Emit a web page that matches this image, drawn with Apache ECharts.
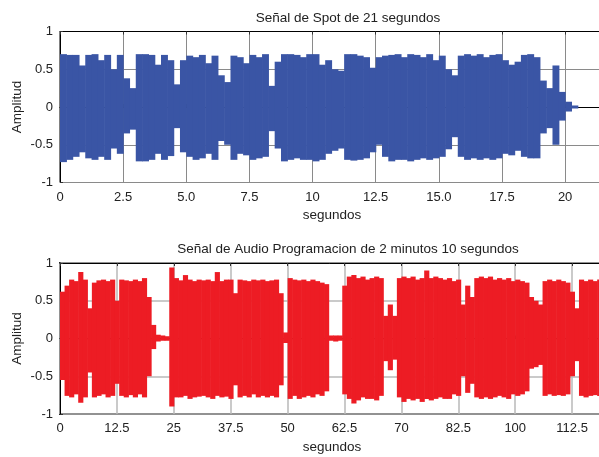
<!DOCTYPE html>
<html>
<head>
<meta charset="utf-8">
<script src="https://cdn.jsdelivr.net/npm/echarts@6/dist/echarts.min.js"></script>
<style>
  html, body { margin: 0; padding: 0; background: #fff; }
  #chart { width: 599px; height: 457px; }
</style>
</head>
<body>
<div id="chart"></div>
<script>
// envelope of the spot signal, one value per 0.25 s bin
var spotBin = 0.25;
var spotHi = [0.70,0.69,0.69,0.55,0.69,0.70,0.62,0.69,0.50,0.69,
              0.38,0.25,0.70,0.70,0.69,0.56,0.69,0.62,0.30,0.62,
              0.68,0.66,0.69,0.58,0.68,0.42,0.33,0.68,0.66,0.58,
              0.69,0.66,0.70,0.28,0.60,0.70,0.70,0.69,0.66,0.70,
              0.70,0.56,0.62,0.50,0.48,0.70,0.70,0.68,0.66,0.52,
              0.66,0.68,0.69,0.70,0.66,0.70,0.69,0.66,0.70,0.62,
              0.68,0.50,0.42,0.68,0.70,0.68,0.70,0.66,0.69,0.70,
              0.62,0.56,0.60,0.69,0.70,0.66,0.35,0.25,0.55,0.20,
              0.07,0.02];
var spotLo = [-0.73,-0.70,-0.66,-0.60,-0.68,-0.70,-0.66,-0.70,-0.55,-0.62,
              -0.35,-0.30,-0.72,-0.72,-0.70,-0.62,-0.70,-0.65,-0.28,-0.60,
              -0.66,-0.70,-0.68,-0.62,-0.70,-0.45,-0.50,-0.70,-0.62,-0.64,
              -0.70,-0.68,-0.66,-0.32,-0.55,-0.72,-0.70,-0.68,-0.70,-0.70,
              -0.72,-0.70,-0.62,-0.58,-0.55,-0.70,-0.71,-0.70,-0.68,-0.60,
              -0.50,-0.66,-0.72,-0.70,-0.70,-0.72,-0.70,-0.68,-0.70,-0.68,
              -0.66,-0.56,-0.40,-0.66,-0.70,-0.68,-0.70,-0.68,-0.70,-0.68,
              -0.62,-0.64,-0.58,-0.66,-0.68,-0.68,-0.35,-0.28,-0.50,-0.18,
              -0.06,-0.02];

// envelope of the programme audio, one value per 1 s bin
var audioBin = 1;
var audioHi = [0.62,0.70,0.78,0.76,0.88,0.78,0.40,0.74,0.77,0.78,
               0.76,0.78,0.50,0.78,0.77,0.76,0.78,0.76,0.80,0.55,
               0.18,0.05,0.04,0.03,0.94,0.80,0.77,0.84,0.78,0.76,
               0.78,0.77,0.78,0.76,0.88,0.76,0.78,0.78,0.60,0.78,
               0.77,0.76,0.78,0.77,0.78,0.76,0.77,0.78,0.60,0.08,
               0.80,0.78,0.77,0.78,0.76,0.78,0.76,0.74,0.72,0.04,
               0.04,0.04,0.70,0.82,0.84,0.80,0.82,0.78,0.80,0.82,
               0.80,0.30,0.45,0.30,0.80,0.82,0.80,0.82,0.78,0.80,
               0.90,0.80,0.82,0.80,0.78,0.80,0.76,0.78,0.45,0.70,
               0.55,0.80,0.82,0.80,0.82,0.78,0.80,0.78,0.80,0.76,
               0.78,0.76,0.74,0.55,0.50,0.45,0.76,0.78,0.76,0.78,
               0.76,0.74,0.62,0.40,0.78,0.76,0.78,0.76,0.78,0.77];
var audioLo = [-0.55,-0.76,-0.78,-0.74,-0.85,-0.78,-0.45,-0.78,-0.76,-0.74,
               -0.78,-0.76,-0.60,-0.76,-0.78,-0.75,-0.78,-0.74,-0.78,-0.50,
               -0.14,-0.04,-0.03,-0.03,-0.90,-0.78,-0.78,-0.76,-0.80,-0.78,
               -0.77,-0.76,-0.78,-0.80,-0.76,-0.78,-0.77,-0.80,-0.62,-0.78,
               -0.76,-0.78,-0.74,-0.78,-0.76,-0.78,-0.76,-0.78,-0.62,-0.06,
               -0.80,-0.76,-0.80,-0.78,-0.76,-0.78,-0.74,-0.76,-0.70,-0.03,
               -0.04,-0.03,-0.74,-0.80,-0.86,-0.82,-0.78,-0.80,-0.80,-0.82,
               -0.76,-0.30,-0.42,-0.28,-0.78,-0.84,-0.80,-0.82,-0.80,-0.84,
               -0.80,-0.82,-0.80,-0.78,-0.80,-0.80,-0.74,-0.76,-0.50,-0.72,
               -0.60,-0.78,-0.80,-0.78,-0.80,-0.78,-0.76,-0.78,-0.80,-0.74,
               -0.76,-0.74,-0.70,-0.40,-0.38,-0.35,-0.76,-0.74,-0.76,-0.75,
               -0.76,-0.74,-0.50,-0.30,-0.76,-0.78,-0.76,-0.75,-0.76,-0.76];

// tick labels as printed on the original figure
var spotTicks = ['0','2.5','5.0','7.5','10','12.5','15.0','17.5','20'];
var audioTicks = ['0','12.5','25','37.5','50','62.5','70','82.5','100','112.5'];

function toBins(hi, lo, bin){
  var out = [];
  for (var i = 0; i < hi.length; i++) out.push([i*bin, hi[i], lo[i]]);
  return out;
}

function envelope(bin){
  return function(params, api){
    var t = api.value(0);
    var p1 = api.coord([t, api.value(1)]);
    var p2 = api.coord([t + bin, api.value(2)]);
    return {
      type: 'rect',
      shape: { x: p1[0], y: p1[1], width: p2[0]-p1[0]+0.6, height: Math.max(p2[1]-p1[1], 1) },
      style: { fill: api.visual('color') }
    };
  };
}

function tickFmt(labels, step){
  return function(v){
    var k = Math.round(v/step);
    if (Math.abs(v - k*step) > 1e-6 || k >= labels.length) return '';
    return labels[k];
  };
}

var font = 'Liberation Sans, Arial, sans-serif';

function xAx(idx, max, step, labels, gridCol, gridW){
  return {
    type: 'value', gridIndex: idx, min: 0, max: max, interval: step,
    name: 'segundos', nameLocation: 'middle', nameGap: 26,
    nameTextStyle: { color: '#222', fontSize: 13.5, fontFamily: font },
    axisLine: { show: true, lineStyle: { color: '#000', width: 1 } },
    axisTick: { show: true, inside: true, length: 3, lineStyle: { color: '#333' } },
    axisLabel: { color: '#222', fontSize: 13, fontFamily: font, margin: 8, formatter: tickFmt(labels, step) },
    splitLine: { show: true, lineStyle: { color: gridCol, width: gridW } }
  };
}

// plain top edge with MATLAB-style inner ticks
function xTop(idx, max, step){
  return {
    type: 'value', gridIndex: idx, position: 'top', min: 0, max: max, interval: step,
    axisLine: { show: true, lineStyle: { color: '#000', width: 1 } },
    axisTick: { show: true, inside: true, length: 3, lineStyle: { color: '#333' } },
    axisLabel: { show: false },
    splitLine: { show: false }
  };
}

function yAx(idx, gridCol, gridW){
  return {
    type: 'value', gridIndex: idx, min: -1, max: 1, interval: 0.5,
    name: 'Amplitud', nameLocation: 'middle', nameGap: 36, nameMoveOverlap: false,
    nameTextStyle: { color: '#222', fontSize: 13.5, fontFamily: font },
    axisLine: { show: true, lineStyle: { color: '#000', width: 1 } },
    axisTick: { show: true, inside: true, length: 3, lineStyle: { color: '#333' } },
    axisLabel: { color: '#222', fontSize: 13, fontFamily: font, margin: 7 },
    splitLine: { show: true, lineStyle: { color: gridCol, width: gridW } }
  };
}

var option = {
  animation: false,
  backgroundColor: '#fff',
  title: [
    { text: 'Señal de Spot de 21 segundos', left: 343, top: 6, textAlign: 'center',
      textStyle: { fontSize: 13.5, fontWeight: 'normal', color: '#222', fontFamily: font } },
    { text: 'Señal de Audio Programacion de 2 minutos 10 segundos', left: 343, top: 237, textAlign: 'center',
      textStyle: { fontSize: 13.5, fontWeight: 'normal', color: '#222', fontFamily: font } }
  ],
  grid: [
    { left: 60, right: -5, top: 31.5, height: 151, outerBoundsMode: 'none', containLabel: false,
      show: true, borderColor: '#000', borderWidth: 1, backgroundColor: '#fff' },
    { left: 60, right: -5, top: 263, height: 151, outerBoundsMode: 'none', containLabel: false,
      show: true, borderColor: '#222', borderWidth: 2, backgroundColor: '#fff' }
  ],
  xAxis: [
    xAx(0, 21.54, 2.5, spotTicks, '#8a8a8a', 1),
    xAx(1, 119.5, 12.5, audioTicks, '#b8b8b8', 1.5),
    xTop(0, 21.54, 2.5),
    xTop(1, 119.5, 12.5)
  ],
  yAxis: [
    yAx(0, '#8a8a8a', 1),
    yAx(1, '#b8b8b8', 1.5)
  ],
  series: [
    { type: 'custom', xAxisIndex: 0, yAxisIndex: 0, color: '#3a55a5',
      renderItem: envelope(spotBin), data: toBins(spotHi, spotLo, spotBin), z: 3 },
    { type: 'custom', xAxisIndex: 1, yAxisIndex: 1, color: '#ed1c24',
      renderItem: envelope(audioBin), data: toBins(audioHi, audioLo, audioBin), z: 3 }
  ]
};

var myChart = echarts.init(document.getElementById('chart'));
myChart.setOption(option);
</script>
</body>
</html>
